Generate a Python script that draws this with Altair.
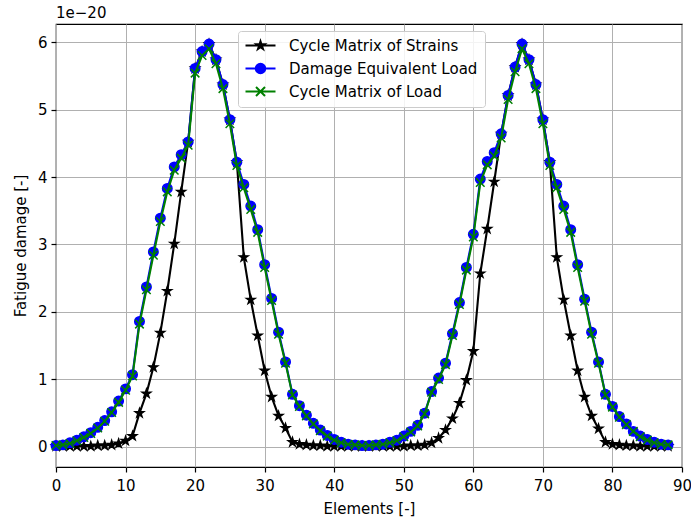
import altair as alt
import pandas as pd

elements = list(range(89))

strains = [0.01, 0.01, 0.01, 0.01, 0.01, 0.01, 0.02, 0.02, 0.03, 0.05,
           0.09, 0.16, 0.50, 0.79, 1.18, 1.69, 2.31, 3.01, 3.78, 4.52,
           5.61, 5.86, 5.97, 5.74, 5.37, 4.85, 4.22, 2.81, 2.18, 1.65,
           1.13, 0.74, 0.46, 0.28, 0.07, 0.04, 0.03, 0.02, 0.02, 0.01,
           0.01, 0.01, 0.01, 0.01, 0.01, 0.01, 0.01, 0.01, 0.01, 0.01,
           0.01, 0.02, 0.02, 0.03, 0.06, 0.13, 0.25, 0.42, 0.65, 0.99,
           1.42, 2.57, 3.23, 3.93, 4.64, 5.21, 5.63, 5.97, 5.74, 5.37,
           4.85, 4.22, 2.81, 2.18, 1.65, 1.13, 0.74, 0.46, 0.27, 0.07,
           0.04, 0.03, 0.02, 0.02, 0.01, 0.01, 0.01, 0.01, 0.01]

del_load = [0.02, 0.03, 0.06, 0.10, 0.15, 0.21, 0.29, 0.39, 0.52, 0.68,
            0.86, 1.07, 1.86, 2.37, 2.89, 3.39, 3.83, 4.15, 4.33, 4.52,
            5.61, 5.86, 5.97, 5.74, 5.37, 4.85, 4.22, 3.89, 3.57, 3.22,
            2.70, 2.20, 1.70, 1.26, 0.78, 0.61, 0.47, 0.35, 0.25, 0.17,
            0.11, 0.07, 0.04, 0.03, 0.02, 0.02, 0.03, 0.04, 0.07, 0.10,
            0.16, 0.23, 0.32, 0.50, 0.82, 1.02, 1.24, 1.68, 2.14, 2.66,
            3.15, 3.97, 4.23, 4.36, 4.64, 5.21, 5.63, 5.97, 5.74, 5.37,
            4.85, 4.22, 3.89, 3.57, 3.22, 2.70, 2.19, 1.70, 1.26, 0.78,
            0.60, 0.45, 0.34, 0.23, 0.16, 0.11, 0.07, 0.04, 0.03]

cm_load = [0.02, 0.03, 0.05, 0.09, 0.14, 0.20, 0.28, 0.38, 0.51, 0.66,
           0.84, 1.05, 1.82, 2.33, 2.84, 3.34, 3.78, 4.10, 4.28, 4.47,
           5.54, 5.80, 5.90, 5.68, 5.31, 4.79, 4.17, 3.84, 3.52, 3.18,
           2.66, 2.17, 1.67, 1.24, 0.77, 0.60, 0.46, 0.34, 0.24, 0.16,
           0.10, 0.06, 0.04, 0.03, 0.02, 0.02, 0.03, 0.04, 0.06, 0.09,
           0.15, 0.22, 0.31, 0.49, 0.81, 1.00, 1.22, 1.65, 2.11, 2.62,
           3.11, 3.92, 4.18, 4.31, 4.58, 5.15, 5.56, 5.90, 5.68, 5.31,
           4.79, 4.17, 3.84, 3.52, 3.18, 2.66, 2.16, 1.67, 1.24, 0.77,
           0.59, 0.44, 0.33, 0.23, 0.15, 0.10, 0.06, 0.04, 0.03]

names = ["Cycle Matrix of Strains", "Damage Equivalent Load", "Cycle Matrix of Load"]
colors = ["#000000", "#0000ff", "#008000"]
x_ticks = [0, 10, 20, 30, 40, 50, 60, 70, 80, 90]
y_ticks = [0, 1, 2, 3, 4, 5, 6]

df = pd.DataFrame({
    "element": elements * 3,
    "damage": strains + del_load + cm_load,
    "series": [n for n in names for _ in elements],
})

FONT = "DejaVu Sans"
STAR = ("M0,-1L0.225,-0.309L0.951,-0.309L0.363,0.118L0.588,0.809L0,0.382"
        "L-0.588,0.809L-0.363,0.118L-0.951,-0.309L-0.225,-0.309Z")
STAR_SMALL = ("M0,-0.85L0.19,-0.26L0.81,-0.26L0.31,0.1L0.5,0.69L0,0.32"
              "L-0.5,0.69L-0.31,0.1L-0.81,-0.26L-0.19,-0.26Z")
XMARK = "M-0.9,-0.9L0.9,0.9M-0.9,0.9L0.9,-0.9"
CIRCLE = "M0.95,0A0.95,0.95,0,1,1,-0.95,0A0.95,0.95,0,1,1,0.95,0Z"
SEG = "M-3,0L3,0"
legend_paths = [SEG + STAR_SMALL, SEG + CIRCLE, SEG + XMARK]

x_enc = alt.X("element:Q",
              scale=alt.Scale(domain=[0, 90], nice=False, zero=False),
              axis=alt.Axis(values=x_ticks, title="Elements [-]", labelFlush=False,
                            labelPadding=6, titlePadding=8))
y_enc = alt.Y("damage:Q",
              scale=alt.Scale(domain=[-0.298, 6.268], nice=False, zero=False),
              axis=alt.Axis(values=y_ticks, title="Fatigue damage [-]", titlePadding=9))

base = alt.Chart(df).encode(x=x_enc, y=y_enc)

layers = []
marker_specs = [
    dict(shape=STAR, filled=True, fill=colors[0], stroke=colors[0], strokeWidth=1.2, size=95),
    dict(shape="circle", filled=True, fill=colors[1], stroke=colors[1], strokeWidth=1.5, size=90),
    dict(shape=XMARK, filled=False, stroke=colors[2], strokeWidth=1.5, size=90),
]
for name, col, spec in zip(names, colors, marker_specs):
    sub = base.transform_filter(alt.datum.series == name)
    layers.append(sub.mark_line(color=col, strokeWidth=2.1))
    layers.append(sub.mark_point(opacity=1, **spec))

legend_layer = base.transform_filter("datum.element < -100").mark_point(
    filled=True, opacity=1, strokeWidth=2, size=100
).encode(
    fill=alt.Fill("series:N", title=None,
                  scale=alt.Scale(domain=names, range=colors)),
    stroke=alt.Stroke("series:N", title=None,
                      scale=alt.Scale(domain=names, range=colors)),
    shape=alt.Shape("series:N", title=None,
                    scale=alt.Scale(domain=names, range=legend_paths)),
)
layers.append(legend_layer)

chart = alt.layer(*layers).properties(
    width=626,
    height=443,
    autosize=alt.AutoSizeParams(type="none"),
    padding={"left": 56, "top": 24, "right": 9, "bottom": 51},
    title=alt.TitleParams(text="1e\u221220", anchor="start", frame="group",
                          font=FONT, fontSize=15, fontWeight="normal",
                          color="black", offset=3),
).configure_view(
    stroke="black", strokeWidth=1.2
).configure_axis(
    labelFont=FONT, labelFontSize=15, labelColor="black",
    titleFont=FONT, titleFontSize=15, titleFontWeight="normal", titleColor="black",
    tickColor="black", tickSize=5, tickWidth=1.2, labelPadding=4,
    grid=True, gridColor="#b0b0b0", gridWidth=1, domain=False,
).configure_legend(
    orient="none", legendX=182, legendY=7,
    fillColor="rgba(255,255,255,0.85)", strokeColor="#cccccc", cornerRadius=3,
    padding=7, rowPadding=5, symbolSize=100, symbolStrokeWidth=2,
    symbolOffset=8, labelOffset=21, labelFont=FONT, labelFontSize=15,
    labelColor="black", labelLimit=400,
)

chart.save("out.html", embed_options={"renderer": "svg", "actions": False})
